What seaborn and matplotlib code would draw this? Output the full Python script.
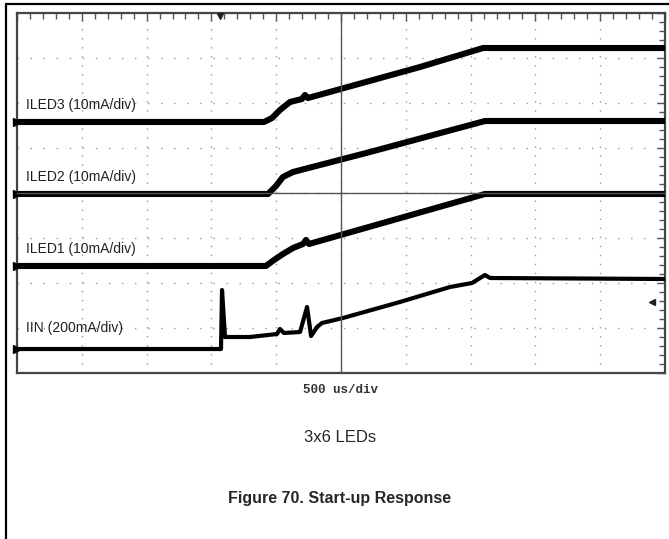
import pandas as pd
import seaborn as sns
import matplotlib.pyplot as plt
from matplotlib.lines import Line2D
from matplotlib.ticker import MultipleLocator, NullFormatter

# time in ms (500 us/div, 10 div); level in divisions (8 div, 0 = centre line)
iled3_t = [0.0, 1.906, 1.968, 2.029, 2.106, 2.199, 2.222, 2.245, 3.110, 3.596, 5.0]
iled3_y = [1.578, 1.578, 1.667, 1.844, 2.022, 2.089, 2.178, 2.111, 2.800, 3.222, 3.222]

iled2_t = [0.0, 1.937, 1.998, 2.052, 2.130, 2.724, 3.611, 5.0]
iled2_y = [-0.022, -0.022, 0.156, 0.356, 0.467, 0.911, 1.600, 1.600]

iled1_t = [0.0, 1.921, 1.983, 2.052, 2.130, 2.207, 2.230, 2.253, 3.611, 5.0]
iled1_y = [-1.622, -1.622, -1.489, -1.356, -1.222, -1.133, -1.044, -1.133, -0.022, -0.022]

iin_t = [0.0, 1.574, 1.582, 1.605, 1.798, 2.006, 2.029, 2.060, 2.184, 2.238, 2.269,
         2.315, 2.353, 2.515, 2.955, 3.341, 3.511, 3.611, 3.650, 5.0]
iin_y = [-3.467, -3.467, -2.156, -3.200, -3.200, -3.133, -3.022, -3.111, -3.089, -2.533, -3.178,
         -2.978, -2.889, -2.778, -2.422, -2.089, -2.000, -1.822, -1.889, -1.911]

channel_names = ['ILED3', 'ILED2', 'ILED1', 'IIN']
channel_labels = ['ILED3 (10mA/div)', 'ILED2 (10mA/div)', 'ILED1 (10mA/div)', 'IIN (200mA/div)']
label_levels = [1.96, 0.36, -1.25, -3.0]

trigger_time = 1.566
trigger_level = -2.42

frames = []
for name, t, y in [('ILED3', iled3_t, iled3_y), ('ILED2', iled2_t, iled2_y),
                   ('ILED1', iled1_t, iled1_y), ('IIN', iin_t, iin_y)]:
    frames.append(pd.DataFrame({'channel': name, 't': t, 'level': y}))
df = pd.concat(frames, ignore_index=True)

sns.set_style('white')
plt.rcParams['font.family'] = ['Liberation Sans', 'DejaVu Sans']

fig = plt.figure(figsize=(6.69, 5.39), dpi=100)
ax = fig.add_axes([17 / 669, 1 - 373 / 539, 648 / 669, 360 / 539])

leds = df[df['channel'] != 'IIN']
sns.lineplot(data=leds, x='t', y='level', hue='channel', estimator=None, sort=False,
             palette={'ILED3': 'black', 'ILED2': 'black', 'ILED1': 'black'},
             linewidth=4.4, legend=False, ax=ax, zorder=5)
sns.lineplot(data=df[df['channel'] == 'IIN'], x='t', y='level', estimator=None, sort=False,
             color='black', linewidth=3, legend=False, ax=ax, zorder=5)

ax.set_xlim(0, 5)
ax.set_ylim(-4, 4)
ax.set(xlabel=None, ylabel=None)

# scope graticule: dotted division lines, ticks inside the frame
ax.xaxis.set_major_locator(MultipleLocator(0.5))
ax.xaxis.set_minor_locator(MultipleLocator(0.1))
ax.yaxis.set_major_locator(MultipleLocator(1))
ax.yaxis.set_minor_locator(MultipleLocator(0.2))
ax.xaxis.set_major_formatter(NullFormatter())
ax.yaxis.set_major_formatter(NullFormatter())
ax.tick_params(which='both', direction='in', top=True, right=True, color='#555', width=1)
ax.tick_params(which='major', length=5.5)
ax.tick_params(which='minor', length=4)
ax.xaxis.grid(True, which='major', color='#999', linestyle=(0, (1, 5.5)), linewidth=1)
ax.yaxis.grid(True, which='major', color='#999', linestyle=(0, (1, 8.4)), linewidth=1)
for s in ax.spines.values():
    s.set_visible(True)
    s.set_color('#444')
    s.set_linewidth(1.6)

# centre crosshair with its own ticks
ax2 = fig.add_axes(ax.get_position(), facecolor='none')
ax2.set_xlim(0, 5)
ax2.set_ylim(-4, 4)
ax2.spines['left'].set_position('center')
ax2.spines['bottom'].set_position('center')
ax2.spines['top'].set_visible(False)
ax2.spines['right'].set_visible(False)
for s in ['left', 'bottom']:
    ax2.spines[s].set_color('#555')
    ax2.spines[s].set_linewidth(1)
ax2.xaxis.set_major_locator(MultipleLocator(0.1))
ax2.yaxis.set_major_locator(MultipleLocator(0.2))
ax2.xaxis.set_major_formatter(NullFormatter())
ax2.yaxis.set_major_formatter(NullFormatter())
ax2.tick_params(direction='inout', length=5, color='#555', width=1)
ax2.grid(False)

# channel ground markers, trigger markers
for name, t, y in [('ILED3', iled3_t, iled3_y), ('ILED2', iled2_t, iled2_y),
                   ('ILED1', iled1_t, iled1_y), ('IIN', iin_t, iin_y)]:
    ax.plot(0, y[0], marker='>', ms=6, color='black', clip_on=False, zorder=6)
ax.plot(trigger_time, 3.93, marker='v', ms=5, color='#222', clip_on=False, zorder=6)
ax.plot(4.9, trigger_level, marker='<', ms=4, color='#222', zorder=6)

for lbl, lv in zip(channel_labels, label_levels):
    ax.text(0.07, lv, lbl, ha='left', va='center', fontsize=10, color='#222')

# page frame and captions
fig.add_artist(Line2D([6 / 669, 1], [1 - 4 / 539, 1 - 4 / 539], color='black', lw=1.6,
                      transform=fig.transFigure))
fig.add_artist(Line2D([6 / 669, 6 / 669], [0, 1 - 4 / 539], color='black', lw=1.6,
                      transform=fig.transFigure))
fig.text(341 / 669, 1 - 390 / 539, '500 us/div', family='Liberation Mono', weight='bold',
         fontsize=9, ha='center', va='center', color='#333')
fig.text(340 / 669, 1 - 438 / 539, '3x6 LEDs', fontsize=12, ha='center', va='center')
fig.text(340 / 669, 1 - 498 / 539, 'Figure 70. Start-up Response', fontsize=11.5,
         weight='bold', ha='center', va='center')

fig.savefig('out.png', dpi=100)
